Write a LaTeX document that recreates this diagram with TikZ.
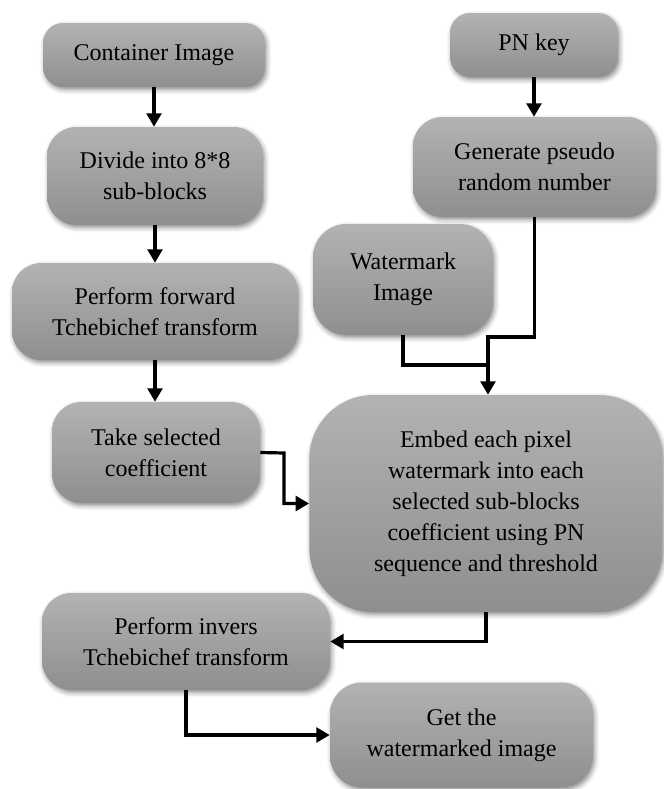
\documentclass[tikz,border=0pt]{standalone}
\usepackage{fontspec}
\setmainfont{Liberation Serif}
\usetikzlibrary{arrows.meta,shadows.blur}
\tikzset{
  box/.style={draw=none, top color=black!30, bottom color=black!44, align=center,
    inner sep=0pt, font=\fontsize{18}{23.3}\selectfont,
    blur shadow={shadow xshift=1.2pt, shadow yshift=-2pt, shadow blur radius=3.5pt, shadow opacity=45}},
  conn/.style={line width=2.4pt, draw=black},
  arr/.style={conn, -{Triangle[length=10pt,width=11pt]}}
}
\begin{document}
\begin{tikzpicture}[x=0.75pt,y=-0.75pt]
\useasboundingbox (0,0) rectangle (664,789);
% left column
\node[box, minimum width=166.5pt, minimum height=48pt, rounded corners=15pt] (cont) at (154,55) {Container Image};
\node[box, minimum width=162pt, minimum height=73.5pt, rounded corners=22pt] (div) at (155,176) {Divide into 8*8\\sub-blocks};
\node[box, minimum width=214.5pt, minimum height=72.75pt, rounded corners=22pt] (fwd) at (155,311.5) {Perform forward\\Tchebichef transform};
\node[box, minimum width=156pt, minimum height=75.75pt, rounded corners=22pt] (take) at (156,452.5) {Take selected\\coefficient};
% right column
\node[box, minimum width=126pt, minimum height=48pt, rounded corners=15pt] (pn) at (534,45) {PN key};
\node[box, minimum width=182.25pt, minimum height=75pt, rounded corners=22pt] (gen) at (534.5,167) {Generate pseudo\\random number};
\node[box, minimum width=135pt, minimum height=83.25pt, rounded corners=25pt] (wm) at (403,279.5) {Watermark\\Image};
\node[box, minimum width=265pt, minimum height=162.75pt, rounded corners=48pt] (emb) at (486,503.5) {Embed each pixel\\watermark into each\\selected sub-blocks\\coefficient using PN\\sequence and threshold};
\node[box, minimum width=216pt, minimum height=72.75pt, rounded corners=22pt] (inv) at (186,641.5) {Perform invers\\Tchebichef transform};
\node[box, minimum width=197.25pt, minimum height=78.75pt, rounded corners=24pt] (get) at (461.5,735) {Get the\\watermarked image};
% junction coordinates
\coordinate (j1) at (488,337);
\coordinate (j2) at (488,365);
\coordinate (j3) at (284,453);
% connectors
\draw[arr] (cont.south) -- (cont.south |- div.north);
\draw[arr] (div.south) -- (div.south |- fwd.north);
\draw[arr] (fwd.south) -- (fwd.south |- take.north);
\draw[arr] (pn.south) -- (pn.south |- gen.north);
\draw[conn] (wm.south) |- (j2);
\draw[arr] (gen.south) |- (j1) -- (j1 |- emb.north);
\draw[arr] (take.east) -- (j3) |- (emb.west);
\draw[arr] (emb.south) |- (inv.east);
\draw[arr] (inv.south) |- (get.west);
\end{tikzpicture}
\end{document}
